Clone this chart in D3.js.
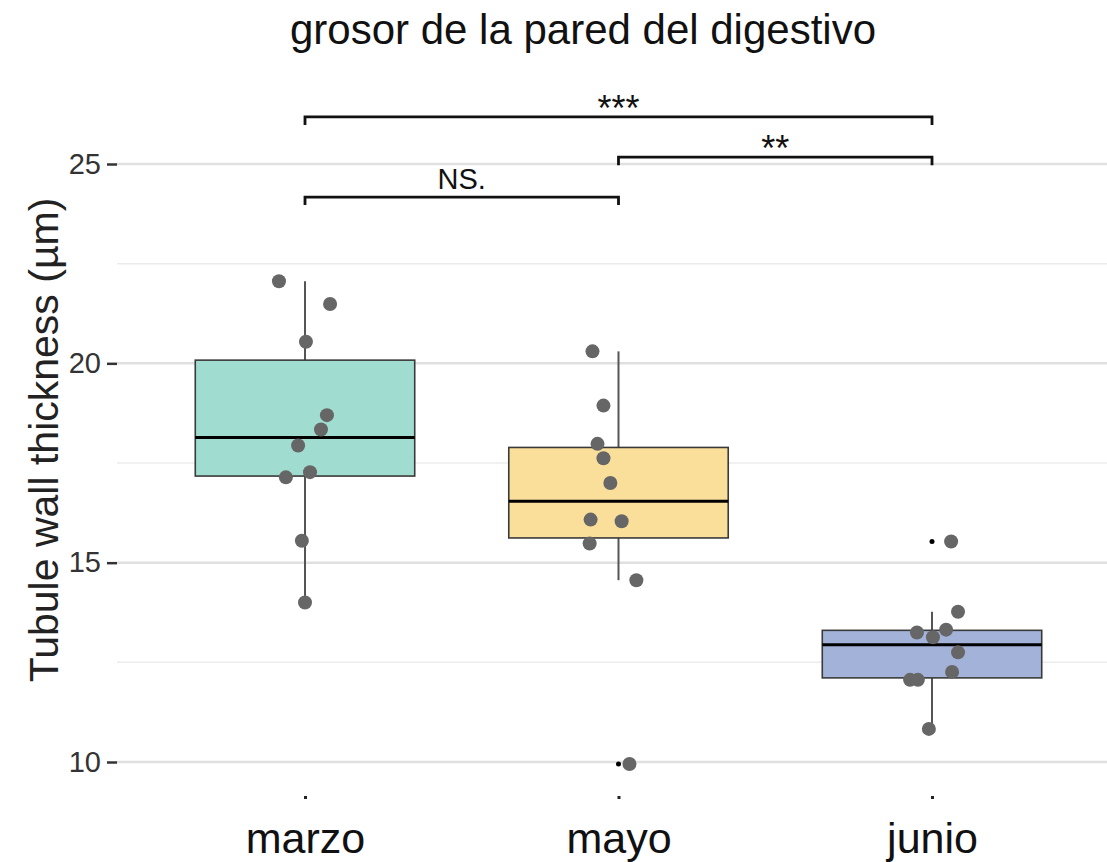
<!DOCTYPE html>
<html>
<head>
<meta charset="utf-8">
<script src="https://cdn.jsdelivr.net/npm/d3@7"></script>
<style>
  html, body { margin: 0; padding: 0; background: #fff; }
  svg { display: block; font-family: "Liberation Sans", Arial, sans-serif; }
</style>
</head>
<body>
<svg id="chart" width="1107" height="862"></svg>
<script>
// Groups sampled
const categories = ["marzo", "mayo", "junio"];
const fills = ["#a0dccf", "#fadf9a", "#a2b2d8"];

// Tubule wall thickness (µm) per sample
const marzoValues = [22.06, 21.49, 20.54, 18.70, 18.34, 17.94, 17.14, 17.27, 15.55, 14.00];
const mayoValues  = [20.30, 18.94, 17.98, 17.62, 17.00, 16.08, 16.04, 15.48, 14.56, 9.95];
const junioValues = [15.53, 13.77, 13.25, 13.32, 13.13, 12.75, 12.26, 12.06, 12.06, 10.83];

// Horizontal jitter of each point, as a fraction of the category spacing
const marzoJitter = [-0.083, 0.080, 0.003, 0.070, 0.051, -0.022, -0.061, 0.016, -0.010, 0.000];
const mayoJitter  = [-0.083, -0.048, -0.067, -0.048, -0.026, -0.089, 0.010, -0.092, 0.057, 0.035];
const junioJitter = [0.061, 0.083, -0.048, 0.045, 0.003, 0.083, 0.064, -0.070, -0.045, -0.010];

const seriesValues = [marzoValues, mayoValues, junioValues];
const seriesJitter = [marzoJitter, mayoJitter, junioJitter];

// Axis ticks
const yTicks = [10, 15, 20, 25];
const yMinorTicks = [12.5, 17.5, 22.5];

// Significance brackets: from group, to group, height (µm), label
const compFrom  = ["marzo", "mayo", "marzo"];
const compTo    = ["mayo", "junio", "junio"];
const compY     = [24.17, 25.17, 26.18];
const compLabel = ["NS.", "**", "***"];

const FONT = "'Liberation Sans', Arial, sans-serif";
const svg = d3.select("#chart");

const x = d3.scalePoint().domain(categories).range([305, 932]);
const step = x.step();
const y = d3.scaleLinear().domain([10, 25]).range([762, 164]);
const panelLeft = 117, panelRight = 1107;

// Title
svg.append("text")
  .attr("x", 583).attr("y", 44)
  .attr("text-anchor", "middle")
  .attr("font-size", 42).attr("fill", "#111")
  .text("grosor de la pared del digestivo");

// Grid
svg.append("g").selectAll("line").data(yMinorTicks).join("line")
  .attr("x1", panelLeft).attr("x2", panelRight)
  .attr("y1", d => y(d)).attr("y2", d => y(d))
  .attr("stroke", "#ececec").attr("stroke-width", 1.5);
svg.append("g").selectAll("line").data(yTicks).join("line")
  .attr("x1", panelLeft).attr("x2", panelRight)
  .attr("y1", d => y(d)).attr("y2", d => y(d))
  .attr("stroke", "#e0e0e0").attr("stroke-width", 2.5);

// Y axis
const yAxis = d3.axisLeft(y).tickValues(yTicks).tickSize(10).tickPadding(6);
const yg = svg.append("g").attr("transform", `translate(${panelLeft},0)`).call(yAxis);
yg.select(".domain").remove();
yg.selectAll(".tick line").attr("stroke", "#333").attr("stroke-width", 2.5);
yg.selectAll(".tick text").attr("font-size", 29).attr("fill", "#333").attr("font-family", FONT);

svg.append("text")
  .attr("transform", "translate(58,440) rotate(-90)")
  .attr("text-anchor", "middle")
  .attr("font-size", 41).attr("fill", "#222")
  .text("Tubule wall thickness (µm)");

// X axis
const xAxis = d3.axisBottom(x).tickSize(3).tickPadding(23);
const xg = svg.append("g").attr("transform", "translate(0,796)").call(xAxis);
xg.select(".domain").remove();
xg.selectAll(".tick line").attr("stroke", "#222").attr("stroke-width", 3);
xg.selectAll(".tick text").attr("font-size", 43).attr("fill", "#111").attr("font-family", FONT);

// Box plot statistics (Tukey whiskers, 1.5 × IQR)
function boxStats(vals) {
  const s = vals.slice().sort(d3.ascending);
  const q1 = d3.quantile(s, 0.25), med = d3.quantile(s, 0.5), q3 = d3.quantile(s, 0.75);
  const iqr = q3 - q1;
  const lo = d3.min(s.filter(v => v >= q1 - 1.5 * iqr));
  const hi = d3.max(s.filter(v => v <= q3 + 1.5 * iqr));
  const outliers = s.filter(v => v < lo || v > hi);
  return { q1, med, q3, lo, hi, outliers };
}

const boxW = step * 0.7;
categories.forEach((c, i) => {
  const st = boxStats(seriesValues[i]);
  const cx = x(c);
  const g = svg.append("g");
  // whiskers
  g.append("line").attr("x1", cx).attr("x2", cx).attr("y1", y(st.hi)).attr("y2", y(st.q3))
    .attr("stroke", "#555").attr("stroke-width", 2);
  g.append("line").attr("x1", cx).attr("x2", cx).attr("y1", y(st.q1)).attr("y2", y(st.lo))
    .attr("stroke", "#555").attr("stroke-width", 2);
  // box
  g.append("rect")
    .attr("x", cx - boxW / 2).attr("width", boxW)
    .attr("y", y(st.q3)).attr("height", y(st.q1) - y(st.q3))
    .attr("fill", fills[i]).attr("stroke", "#3a3a3a").attr("stroke-width", 1.6);
  // median
  g.append("line").attr("x1", cx - boxW / 2).attr("x2", cx + boxW / 2)
    .attr("y1", y(st.med)).attr("y2", y(st.med))
    .attr("stroke", "#000").attr("stroke-width", 3);
  // outliers
  g.selectAll("circle.out").data(st.outliers).join("circle")
    .attr("class", "out").attr("cx", cx).attr("cy", d => y(d)).attr("r", 2.5).attr("fill", "#000");
  // jittered samples
  g.selectAll("circle.pt").data(seriesValues[i].map((v, j) => ({ v, j: seriesJitter[i][j] })))
    .join("circle").attr("class", "pt")
    .attr("cx", d => cx + d.j * step).attr("cy", d => y(d.v))
    .attr("r", 7).attr("fill", "#666");
});

// Significance brackets
const tick = 8;
compLabel.forEach((lab, k) => {
  const x1 = x(compFrom[k]), x2 = x(compTo[k]), yy = y(compY[k]);
  svg.append("path")
    .attr("d", `M${x1},${yy + tick}V${yy}H${x2}V${yy + tick}`)
    .attr("fill", "none").attr("stroke", "#111").attr("stroke-width", 2.8);
  const isStar = lab.indexOf("*") === 0;
  svg.append("text")
    .attr("x", (x1 + x2) / 2).attr("y", isStar ? yy + 4 : yy - 8)
    .attr("text-anchor", "middle")
    .attr("font-size", isStar ? 36 : 29).attr("fill", "#111")
    .text(lab);
});
</script>
</body>
</html>
